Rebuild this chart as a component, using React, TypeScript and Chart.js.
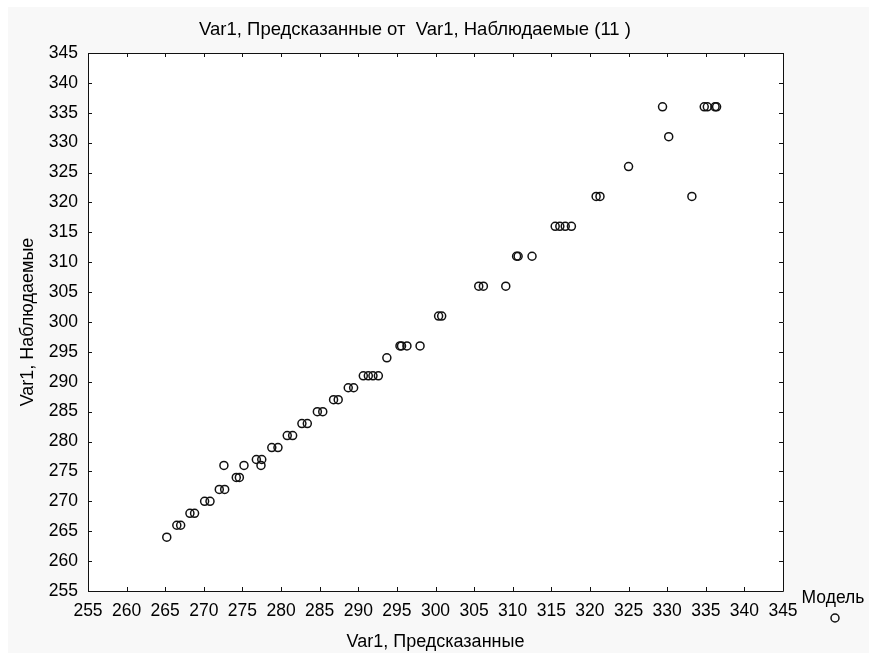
import { useEffect, useRef } from 'react';
import { Chart, registerables } from 'chart.js';

Chart.register(...registerables);

const chartTitle = 'Var1, Предсказанные от  Var1, Наблюдаемые (11 )';
const xAxisTitle = 'Var1, Предсказанные';
const yAxisTitle = 'Var1, Наблюдаемые';
const seriesLabel = 'Модель';

const axisMin = 255;
const axisMax = 345;
const axisStep = 5;

// Predicted (x) and observed (y) values
const predicted = [
  265.2,
  266.5, 267.0,
  268.2, 268.8,
  270.1, 270.8,
  272.0, 272.7,
  274.2, 274.6,
  272.6, 275.2, 277.4,
  276.8, 277.5,
  278.8, 279.6,
  280.8, 281.5,
  282.7, 283.4,
  284.7, 285.4,
  286.8, 287.4,
  288.7, 289.4,
  290.65, 291.3, 291.9, 292.6,
  293.7,
  295.4, 295.6, 296.3, 298.0,
  300.4, 300.8,
  305.6, 306.2, 309.1,
  310.5, 310.7, 312.5,
  315.5, 316.1, 316.8, 317.6,
  320.8, 321.3, 333.2,
  325.0,
  330.2,
  329.4, 334.8, 335.2, 336.2, 336.4,
];
const observed = [
  264,
  266, 266,
  268, 268,
  270, 270,
  272, 272,
  274, 274,
  276, 276, 276,
  277, 277,
  279, 279,
  281, 281,
  283, 283,
  285, 285,
  287, 287,
  289, 289,
  291, 291, 291, 291,
  294,
  296, 296, 296, 296,
  301, 301,
  306, 306, 306,
  311, 311, 311,
  316, 316, 316, 316,
  321, 321, 321,
  326,
  331,
  336, 336, 336, 336, 336,
];

const FONT = "'Liberation Sans', Arial, sans-serif";
const INK = '#111111';
const W = 869;
const H = 653;

const backgroundPlugin = {
  id: 'bgPaint',
  beforeDraw(chart: any) {
    const { ctx, chartArea: a } = chart;
    ctx.save();
    ctx.fillStyle = '#ffffff';
    ctx.fillRect(0, 0, chart.width, chart.height);
    ctx.fillStyle = '#f8f8f8';
    ctx.fillRect(8, 7, chart.width - 8, chart.height - 7);
    ctx.fillStyle = '#ffffff';
    ctx.fillRect(a.left, a.top, a.right - a.left, a.bottom - a.top);
    ctx.restore();
  },
};

const framePlugin = {
  id: 'frameTicks',
  beforeDatasetsDraw(chart: any) {
    const { ctx, chartArea: a, scales } = chart;
    const len = 4;
    ctx.save();
    ctx.strokeStyle = INK;
    ctx.lineWidth = 1;
    ctx.beginPath();
    ctx.rect(Math.round(a.left) + 0.5, Math.round(a.top) + 0.5, Math.round(a.right - a.left), Math.round(a.bottom - a.top));
    scales.x.ticks.forEach((t: any) => {
      const px = Math.round(scales.x.getPixelForValue(t.value)) + 0.5;
      ctx.moveTo(px, a.bottom);
      ctx.lineTo(px, a.bottom - len);
      ctx.moveTo(px, a.top);
      ctx.lineTo(px, a.top + len);
    });
    scales.y.ticks.forEach((t: any) => {
      const py = Math.round(scales.y.getPixelForValue(t.value)) + 0.5;
      ctx.moveTo(a.left, py);
      ctx.lineTo(a.left + len, py);
      ctx.moveTo(a.right, py);
      ctx.lineTo(a.right - len, py);
    });
    ctx.stroke();
    ctx.restore();
  },
};

const titlePlugin = {
  id: 'customTitle',
  afterDraw(chart: any) {
    const { ctx } = chart;
    ctx.save();
    ctx.fillStyle = '#000';
    ctx.font = `18.5px ${FONT}`;
    ctx.textAlign = 'center';
    ctx.textBaseline = 'middle';
    ctx.fillText(chartTitle, 415, 30);
    ctx.restore();
  },
};

const legendPlugin = {
  id: 'sideLegend',
  afterDraw(chart: any) {
    const { ctx } = chart;
    const ds = chart.data.datasets[0];
    const cx = 833;
    ctx.save();
    ctx.fillStyle = '#000';
    ctx.font = `17.5px ${FONT}`;
    ctx.textAlign = 'center';
    ctx.textBaseline = 'middle';
    ctx.fillText(ds.label, cx, 598);
    ctx.beginPath();
    ctx.arc(cx + 2, 618, ds.pointRadius, 0, Math.PI * 2);
    ctx.fillStyle = ds.pointBackgroundColor;
    ctx.fill();
    ctx.lineWidth = ds.pointBorderWidth;
    ctx.strokeStyle = ds.pointBorderColor;
    ctx.stroke();
    ctx.restore();
  },
};

export default function App() {
  const ref = useRef<HTMLCanvasElement | null>(null);

  useEffect(() => {
    document.documentElement.style.overflow = 'hidden';
    document.body.style.margin = '0';
    const canvas = ref.current;
    if (!canvas) return;
    const points = predicted.map((x, i) => ({ x, y: observed[i] }));
    const chart = new Chart(canvas, {
      type: 'scatter',
      data: {
        datasets: [
          {
            label: seriesLabel,
            data: points,
            pointRadius: 4,
            pointHoverRadius: 4,
            pointBorderWidth: 1.5,
            pointBorderColor: INK,
            pointBackgroundColor: 'rgba(255,255,255,0)',
            showLine: false,
          } as any,
        ],
      },
      options: {
        responsive: false,
        animation: false,
        devicePixelRatio: 1,
        layout: { padding: { left: 8, right: 86, top: 53, bottom: 0 } },
        plugins: {
          legend: { display: false },
          tooltip: { enabled: false },
          title: { display: false },
        },
        scales: {
          x: {
            type: 'linear',
            min: axisMin,
            max: axisMax,
            grid: { display: false, drawTicks: false },
            border: { display: false },
            ticks: {
              stepSize: axisStep,
              color: '#000',
              font: { family: FONT, size: 17.5 },
              padding: 10,
              maxRotation: 0,
              autoSkip: false,
            },
            title: {
              display: true,
              text: xAxisTitle,
              color: '#000',
              font: { family: FONT, size: 18 },
              padding: { top: 0, bottom: 0 },
            },
            afterFit(scale: any) {
              scale.height = 62;
            },
          },
          y: {
            type: 'linear',
            min: axisMin,
            max: axisMax,
            grid: { display: false, drawTicks: false },
            border: { display: false },
            ticks: {
              stepSize: axisStep,
              color: '#000',
              font: { family: FONT, size: 17.5 },
              padding: 10,
              autoSkip: false,
            },
            title: {
              display: true,
              text: yAxisTitle,
              color: '#000',
              font: { family: FONT, size: 18 },
              padding: { top: 9, bottom: 0 },
            },
            afterFit(scale: any) {
              scale.width = 80;
            },
          },
        },
      } as any,
      plugins: [backgroundPlugin, framePlugin, titlePlugin, legendPlugin],
    });
    return () => chart.destroy();
  }, []);

  return <canvas ref={ref} width={W} height={H} style={{ display: 'block' }} />;
}
